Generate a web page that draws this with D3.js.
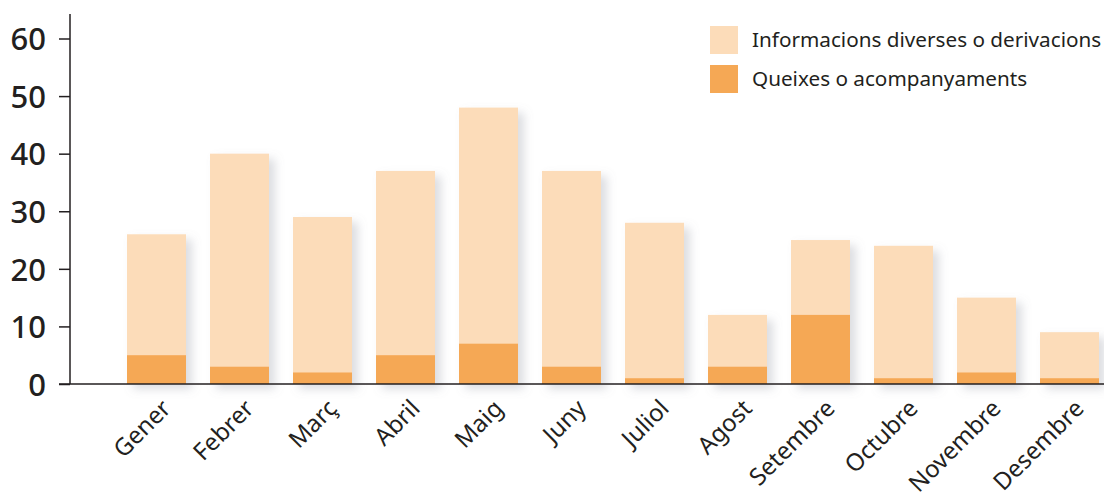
<!DOCTYPE html>
<html><head><meta charset="utf-8">
<script src="https://cdn.jsdelivr.net/npm/d3@7"></script>
<style>body{margin:0;background:#fff}svg{display:block}svg text{font-family:"Noto Sans",sans-serif}</style>
</head><body><svg id="c" width="1104" height="499"></svg>
<script>
const months = ["Gener","Febrer","Març","Abril","Maig","Juny","Juliol","Agost","Setembre","Octubre","Novembre","Desembre"];
const queixes = [5,3,2,5,7,3,1,3,12,1,2,1];
const informacions = [21,37,27,32,41,34,27,9,13,23,13,8];
const seriesNames = ["Informacions diverses o derivacions","Queixes o acompanyaments"];
const yTicks = [0,10,20,30,40,50,60];
const colLight = "#fcdcb9", colDark = "#f5a855", ink = "#231f20";

const svg = d3.select("#c");
const defs = svg.append("defs");
const f = defs.append("filter").attr("id","sh").attr("x","-20%").attr("y","-20%").attr("width","150%").attr("height","150%");
f.append("feDropShadow").attr("dx",6).attr("dy",5).attr("stdDeviation",5).attr("flood-color","#8a909a").attr("flood-opacity",0.3);

const x = d3.scaleBand().domain(months).range([127,1099]).paddingInner(24/83).paddingOuter(0);
const y = d3.scaleLinear().domain([0,60]).range([384,38.5]);

const g = svg.append("g");
months.forEach((m,i)=>{
  const tot = queixes[i]+informacions[i];
  const bg = g.append("g").attr("filter","url(#sh)");
  bg.append("rect").attr("x",x(m)).attr("width",x.bandwidth()).attr("y",y(tot)).attr("height",y(0)-y(tot)).attr("fill",colLight);
});
months.forEach((m,i)=>{
  g.append("rect").attr("x",x(m)).attr("width",x.bandwidth()).attr("y",y(queixes[i])).attr("height",y(0)-y(queixes[i])).attr("fill",colDark);
});

// y axis
const ya = svg.append("g").attr("transform","translate(70,0)").call(d3.axisLeft(y).tickValues(yTicks).tickSize(11).tickPadding(13));
ya.attr("font-family",null);
ya.select(".domain").remove();
ya.selectAll(".tick line").attr("stroke",ink).attr("stroke-width",1.5);
ya.selectAll(".tick text").attr("fill",ink).style("font-size","31px").style("font-weight","500").attr("dy","0.36em");
svg.append("line").attr("x1",70).attr("x2",70).attr("y1",14).attr("y2",y(0)).attr("stroke",ink).attr("stroke-width",1.5);
svg.append("line").attr("x1",59).attr("x2",1104).attr("y1",y(0)).attr("y2",y(0)).attr("stroke",ink).attr("stroke-width",1.5);

// x labels
svg.append("g").selectAll("text").data(months).join("text")
  .attr("transform",d=>`translate(${x(d)+x.bandwidth()/2+4},${398}) rotate(-45)`)
  .attr("text-anchor","end").attr("dy","0.7em").attr("fill",ink).style("font-size","24px").text(d=>d);

// legend
const leg = svg.append("g");
[colLight,colDark].forEach((c,i)=>{
  leg.append("rect").attr("x",710).attr("y",26+i*39).attr("width",28).attr("height",28).attr("fill",c);
  leg.append("text").attr("x",752).attr("y",40+i*39).attr("dy","0.36em").attr("fill",ink).style("font-size","20.7px").text(seriesNames[i]);
});
</script></body></html>
